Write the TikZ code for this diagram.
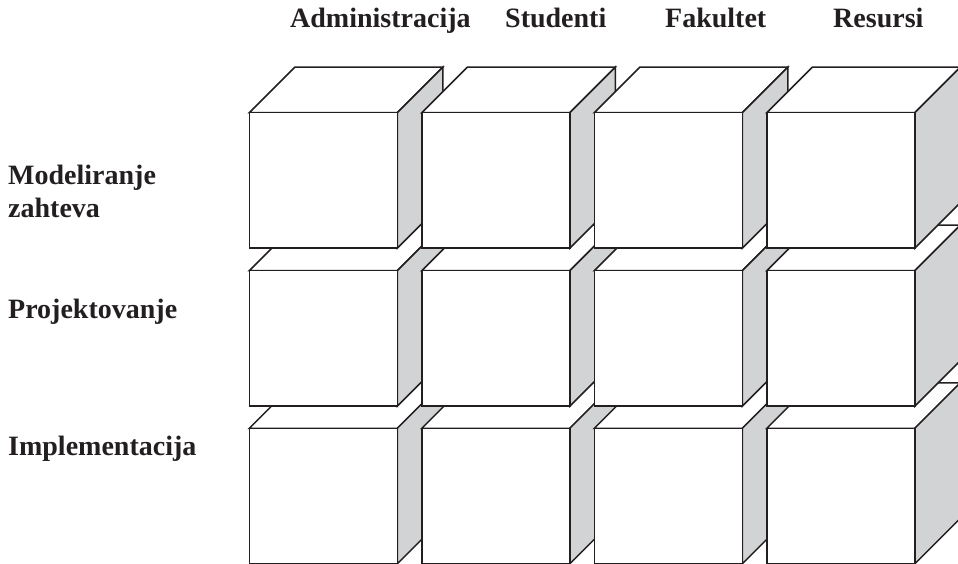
\documentclass[tikz,border=0pt]{standalone}
\usepackage{fontspec}
\setmainfont{Liberation Serif}
\definecolor{sidegray}{RGB}{209,211,212}
\definecolor{ink}{RGB}{35,31,32}
\newcommand{\cw}{148}
\newcommand{\ch}{135.5}
\newcommand{\cd}{45.5}
\tikzset{
  face/.style={draw=ink, line width=1.5pt, line join=miter},
  lbl/.style={font=\fontsize{28}{33}\selectfont\bfseries, text=ink, inner sep=0pt, anchor=base west, align=left},
  cube/.pic={
    \path[face, fill=white] (0,0) -- (\cd,-\cd) -- (\cw+\cd,-\cd) -- (\cw,0) -- cycle;
    \path[face, fill=sidegray] (\cw,0) -- (\cw+\cd,-\cd) -- (\cw+\cd,\ch-\cd) -- (\cw,\ch) -- cycle;
    \path[face, fill=white] (0,0) rectangle (\cw,\ch);
  }
}
\begin{document}
\begin{tikzpicture}[x=1pt, y=-1pt]
  \clip (0,0) rectangle (958,564);
  \fill[white] (0,0) rectangle (958,564);
  % cubes: bottom row first, left to right
  \foreach \r/\yy in {3/428.3, 2/270.7, 1/112.7} {
    \foreach \c/\xx in {1/249.3, 2/421.8, 3/594.3, 4/766.8} {
      \pic (cube\r\c) at (\xx,\yy) {cube};
    }
  }
  % column headers
  \node[lbl] (hadm) at (290,28) {Administracija};
  \node[lbl] (hstu) at (505,28) {Studenti};
  \node[lbl] (hfak) at (665,28) {Fakultet};
  \node[lbl] (hres) at (833,28) {Resursi};
  % row labels
  \node[lbl] (rmod) at (8,218) {Modeliranje\\zahteva};
  \node[lbl] (rpro) at (8,318) {Projektovanje};
  \node[lbl] (rimp) at (8,455) {Implementacija};
\end{tikzpicture}
\end{document}
